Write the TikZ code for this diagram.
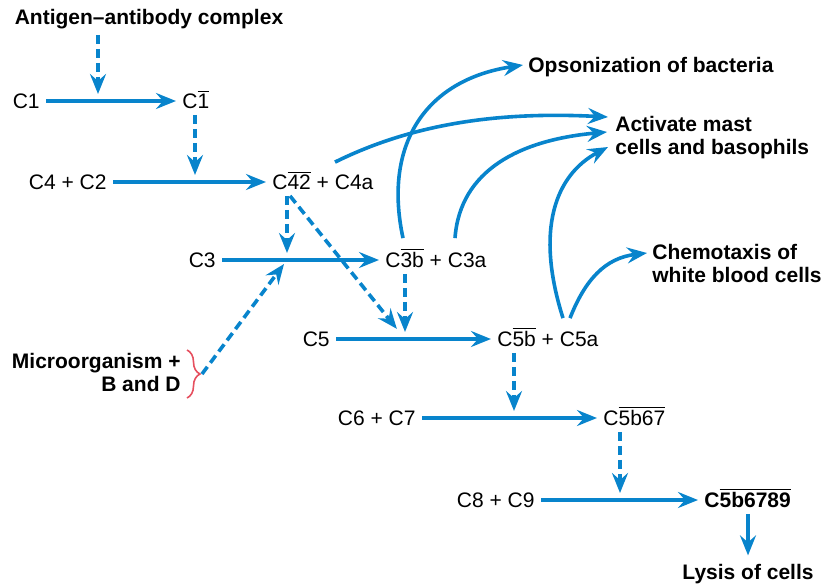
\documentclass[tikz,border=0pt]{standalone}
\usepackage{fontspec}
\setmainfont{Liberation Sans}
\usetikzlibrary{arrows.meta,decorations.pathreplacing}
\definecolor{flow}{RGB}{8,132,204}
\definecolor{bracered}{RGB}{230,80,95}
\newcommand\ovl[1]{$\overline{\hbox{#1}}$}
\begin{document}
\begin{tikzpicture}[x=0.5pt,y=-0.5pt,every node/.style={font=\fontsize{10.5}{11.5}\selectfont,inner sep=3pt}, comp/.style={text height=7.5pt,text depth=0pt}, outcome/.style={font=\fontsize{10.5}{11.5}\selectfont\bfseries,align=left}, react/.style={draw=flow,line width=1.8pt,-{Stealth[length=10pt,width=8pt,inset=3.5pt]}}, trigger/.style={react,dash pattern=on 4.5pt off 2.5pt,shorten >=3.5pt}, grouping/.style={draw=bracered,line width=0.8pt,decorate,decoration={brace,amplitude=6.5pt}}]
\useasboundingbox (0,0) rectangle (824,584);
\node[outcome,anchor=base] (agab) at (149,24) {Antigen--antibody complex};
\node[comp,anchor=east] (c1) at (46,101) {C1};
\node[comp,anchor=west] (c1b) at (176,101) {C\ovl{1}};
\node[comp,anchor=east] (c42) at (113,182) {C4 + C2};
\node[comp,anchor=west] (c42b) at (266,182) {C\ovl{42} + C4a};
\node[comp,anchor=east] (c3) at (222,260) {C3};
\node[comp,anchor=west] (c3b) at (379,260) {C\ovl{3b} + C3a};
\node[comp,anchor=east] (c5) at (336,339) {C5};
\node[comp,anchor=west] (c5b) at (491,339) {C\ovl{5b} + C5a};
\node[comp,anchor=east] (c67) at (422,418) {C6 + C7};
\node[comp,anchor=west] (c5b67) at (597,418) {C\ovl{5b67}};
\node[comp,anchor=east] (c89) at (541,500) {C8 + C9};
\node[comp,anchor=west,font=\fontsize{10.5}{11.5}\selectfont\bfseries] (mac) at (698,500) {C\ovl{5b6789}};
\node[outcome,anchor=base] (lysis) at (748,579) {Lysis of cells};
\node[outcome,anchor=base west] (opso) at (522,72) {Opsonization of bacteria};
\node[outcome,anchor=base west] (mast) at (609,154) {Activate mast\\cells and basophils};
\node[outcome,anchor=base west] (chemo) at (646,282) {Chemotaxis of\\white blood cells};
\node[outcome,align=right,anchor=east] (micro) at (187,372) {Microorganism +\\B and D};
\coordinate (j1) at (98,101);
\coordinate (j2) at (195,182);
\coordinate (j3) at (287,260);
\coordinate (j4) at (405,339);
\coordinate (j5) at (514,418);
\coordinate (j6) at (620,500);
\coordinate (brtop) at (187,350);
\coordinate (brbot) at (187,398);
\coordinate (brtip) at (202,374);
% cascade
\draw[react] (c1.east) -- (c1b.west);
\draw[react] (c42.east) -- (c42b.west);
\draw[react] (c3.east) -- (c3b.west);
\draw[react] (c5.east) -- (c5b.west);
\draw[react] (c67.east) -- (c5b67.west);
\draw[react] (c89.east) -- (mac.west);
\draw[react,shorten >=1pt] (lysis.north |- mac.south) -- (lysis.north);
% activating steps
\draw[trigger] (agab.south -| j1) -- (j1);
\draw[trigger] (c1b.south -| j2) -- (j2);
\draw[trigger] (c42b.south -| j3) -- (j3);
\draw[trigger,shorten >=6.5pt] ([shift={(24,0)}]c42b.south west) -- (j4);
\draw[trigger] (c3b.south -| j4) -- (j4);
\draw[trigger] (c5b.south -| j5) -- (j5);
\draw[trigger] (c5b67.south -| j6) -- (j6);
\draw[grouping] (brtop) -- (brbot);
\draw[trigger,shorten >=2.5pt] (brtip) -- (j3);
% effects
\draw[react] ([shift={(24,-8)}]c3b.north west) .. controls (383,145) and (425,80) .. ([shift={(1,-7)}]opso.base west);
\draw[react] ([shift={(69,-6)}]c42b.north west) .. controls (420,120) and (510,112) .. ([shift={(-1,-37)}]mast.base west);
\draw[react] ([shift={(76,-8)}]c3b.north west) .. controls (460,170) and (520,140) .. ([shift={(-2,-22)}]mast.base west);
\draw[react] ([shift={(72,-7)}]c5b.north west) .. controls (535,230) and (555,175) .. ([shift={(-1,-7)}]mast.base west);
\draw[react] ([shift={(79,-7)}]c5b.north west) .. controls (585,280) and (605,258) .. ([shift={(1,-29)}]chemo.base west);
\end{tikzpicture}
\end{document}
